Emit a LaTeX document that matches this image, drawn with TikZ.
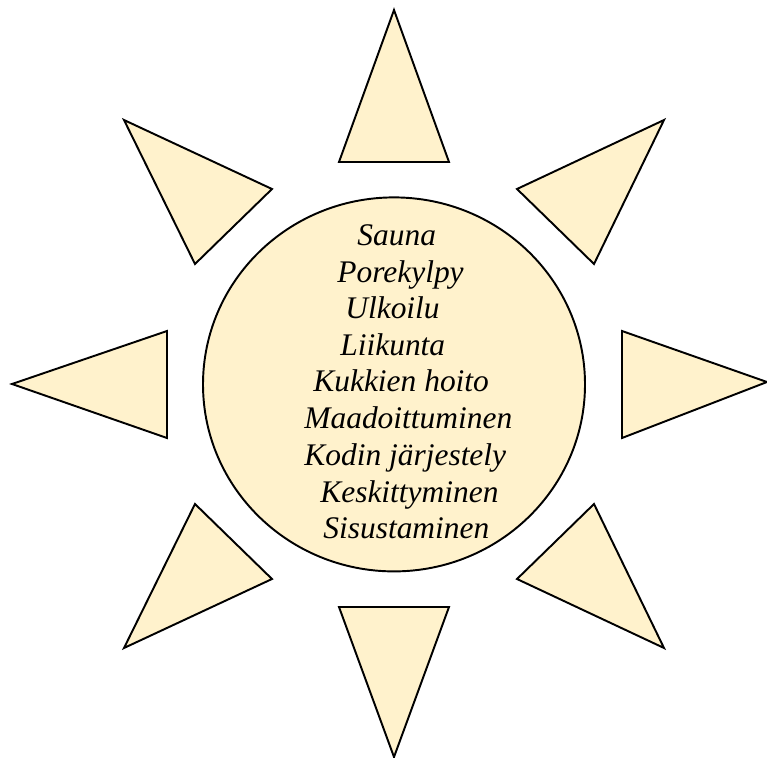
\documentclass[tikz,border=0pt]{standalone}
\usepackage{fontspec}
\setmainfont{Liberation Serif}
\definecolor{sunfill}{RGB}{255,242,204}
\tikzset{
  ray/.style={draw=black,fill=sunfill,line width=1.1pt,line join=miter},
  word/.style={anchor=base west,inner sep=0pt,font=\fontsize{17.9}{21}\selectfont\itshape}
}
\begin{document}
\begin{tikzpicture}[x=0.02cm,y=-0.02cm]
    \useasboundingbox (0,0) rectangle (767,757);
    % Rays
    \draw[ray] (394,10) -- (449,162) -- (339,162) -- cycle;
    \draw[ray] (394,757) -- (449,607) -- (339,607) -- cycle;
    \draw[ray] (12,384) -- (167,331) -- (167,438) -- cycle;
    \draw[ray] (767,382) -- (622,331) -- (622,438) -- cycle;
    \draw[ray] (124,120) -- (272,189) -- (195,264) -- cycle;
    \draw[ray] (664,120) -- (517,189) -- (594,264) -- cycle;
    \draw[ray] (124,648) -- (195,504) -- (272,579) -- cycle;
    \draw[ray] (664,648) -- (594,504) -- (517,579) -- cycle;
    % Sun
    \draw[ray] (394,384.4) ellipse (191 and 187);
    % Activities
    \node[word] (sauna) at (357,245) {Sauna};
    \node[word] (porekylpy) at (337,282) {Porekylpy};
    \node[word] (ulkoilu) at (345,318) {Ulkoilu};
    \node[word] (liikunta) at (340,355) {Liikunta};
    \node[word] (kukat) at (313,391) {Kukkien hoito};
    \node[word] (maadoitus) at (304,428) {Maadoittuminen};
    \node[word] (koti) at (304,465) {Kodin järjestely};
    \node[word] (keskitys) at (320,502) {Keskittyminen};
    \node[word] (sisustus) at (323,538) {Sisustaminen};
\end{tikzpicture}
\end{document}
